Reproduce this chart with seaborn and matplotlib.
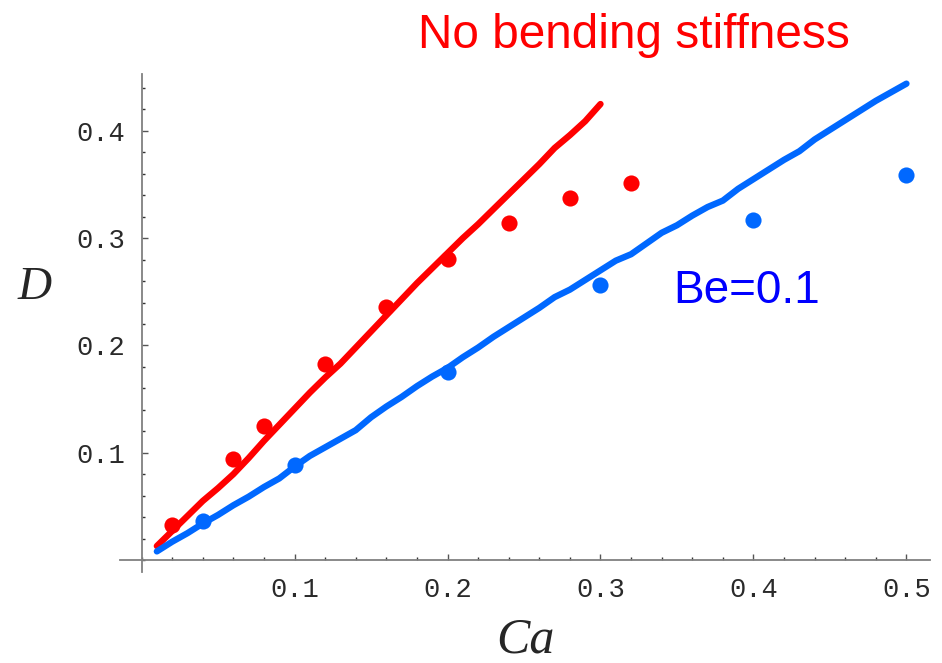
import matplotlib
matplotlib.use('Agg')
import matplotlib.pyplot as plt
from matplotlib.ticker import MultipleLocator
import pandas as pd
import seaborn as sns

# computed curves
ca_red_line = [0.01, 0.02, 0.03, 0.04, 0.05, 0.06, 0.07, 0.08, 0.09, 0.10,
               0.11, 0.12, 0.13, 0.14, 0.15, 0.16, 0.17, 0.18, 0.19, 0.20,
               0.21, 0.22, 0.23, 0.24, 0.25, 0.26, 0.27, 0.28, 0.29, 0.30]
d_red_line = [0.013, 0.027, 0.041, 0.055, 0.067, 0.080, 0.095, 0.111, 0.126, 0.141,
              0.156, 0.170, 0.183, 0.198, 0.213, 0.228, 0.243, 0.258, 0.272, 0.286,
              0.300, 0.313, 0.327, 0.341, 0.355, 0.369, 0.384, 0.396, 0.409, 0.425]

ca_blue_line = [0.01, 0.02, 0.03, 0.04, 0.05, 0.06, 0.07, 0.08, 0.09, 0.10,
                0.11, 0.12, 0.13, 0.14, 0.15, 0.16, 0.17, 0.18, 0.19, 0.20,
                0.21, 0.22, 0.23, 0.24, 0.25, 0.26, 0.27, 0.28, 0.29, 0.30,
                0.31, 0.32, 0.33, 0.34, 0.35, 0.36, 0.37, 0.38, 0.39, 0.40,
                0.41, 0.42, 0.43, 0.44, 0.45, 0.46, 0.47, 0.48, 0.49, 0.50]
d_blue_line = [0.008, 0.017, 0.025, 0.034, 0.042, 0.051, 0.059, 0.068, 0.076, 0.087,
               0.097, 0.105, 0.113, 0.121, 0.133, 0.143, 0.152, 0.162, 0.171, 0.179,
               0.189, 0.198, 0.208, 0.217, 0.226, 0.235, 0.245, 0.252, 0.261, 0.270,
               0.279, 0.285, 0.295, 0.305, 0.312, 0.321, 0.329, 0.335, 0.346, 0.355,
               0.364, 0.373, 0.381, 0.392, 0.401, 0.410, 0.419, 0.428, 0.436, 0.444]

# measured points
ca_red_pts = [0.02, 0.06, 0.08, 0.12, 0.16, 0.20, 0.24, 0.28, 0.32]
d_red_pts = [0.033, 0.094, 0.125, 0.183, 0.236, 0.281, 0.314, 0.337, 0.351]
ca_blue_pts = [0.04, 0.10, 0.20, 0.30, 0.40, 0.50]
d_blue_pts = [0.036, 0.089, 0.175, 0.256, 0.317, 0.359]

x_ticks = [0.1, 0.2, 0.3, 0.4, 0.5]
y_ticks = [0.1, 0.2, 0.3, 0.4]

RED = '#FF0000'
BLUE = '#0068FF'

sns.set_style('white')

W, H = 942, 663
fig = plt.figure(figsize=(W / 100, H / 100), dpi=100)
ax = fig.add_axes([120 / W, (H - 572) / H, 810 / W, 498 / H])

red_line = pd.DataFrame({'Ca': ca_red_line, 'D': d_red_line})
blue_line = pd.DataFrame({'Ca': ca_blue_line, 'D': d_blue_line})
sns.lineplot(data=red_line, x='Ca', y='D', color=RED, lw=4.6, ax=ax,
             solid_capstyle='round', sort=False)
sns.lineplot(data=blue_line, x='Ca', y='D', color=BLUE, lw=4.6, ax=ax,
             solid_capstyle='round', sort=False)
sns.scatterplot(x=ca_red_pts, y=d_red_pts, color=RED, s=135, linewidth=0, ax=ax, zorder=3)
sns.scatterplot(x=ca_blue_pts, y=d_blue_pts, color=BLUE, s=135, linewidth=0, ax=ax, zorder=3)

ax.set_xlim(-0.0141, 0.5154)
ax.set_ylim(-0.0112, 0.453)

# Mathematica-like axes crossing at origin
for side in ['top', 'right']:
    ax.spines[side].set_visible(False)
for side in ['left', 'bottom']:
    ax.spines[side].set_position(('data', 0))
    ax.spines[side].set_color('#808080')
    ax.spines[side].set_linewidth(1.3)

ax.set_xticks(x_ticks)
ax.set_yticks(y_ticks)
ax.set_xticklabels([str(t) for t in x_ticks])
ax.set_yticklabels([str(t) for t in y_ticks])
ax.xaxis.set_minor_locator(MultipleLocator(0.02))
ax.yaxis.set_minor_locator(MultipleLocator(0.02))
ax.tick_params(which='major', direction='in', length=4.5, width=1.0, color='#555555',
               labelsize=19.5, pad=12, labelcolor='#2a2a2a')
ax.tick_params(which='minor', direction='in', length=2.3, width=1.0, color='#333333')
ax.tick_params(axis='x', which='both', bottom=True)
ax.tick_params(axis='y', which='both', left=True)
for lab in ax.get_xticklabels() + ax.get_yticklabels():
    lab.set_family(['Liberation Mono', 'DejaVu Sans Mono'])
ax.set_xlabel('')
ax.set_ylabel('')
ax.grid(False)

# axis labels
fig.text(525 / W, 1 - 640 / H, 'Ca', family='Liberation Serif', style='italic',
         fontsize=36, ha='center', va='center')
fig.text(35 / W, 1 - 288 / H, 'D', family='Liberation Serif', style='italic',
         fontsize=34, ha='center', va='center')

# annotations
fig.text(418 / W, 1 - 48 / H, 'No bending stiffness', family='Liberation Sans',
         fontsize=34.4, color=RED, ha='left', va='baseline')
fig.text(673 / W, 1 - 303 / H, 'Be=0.1', family='Liberation Sans',
         fontsize=33, color='#0000FF', ha='left', va='baseline')

fig.savefig('out.png', dpi=100)
